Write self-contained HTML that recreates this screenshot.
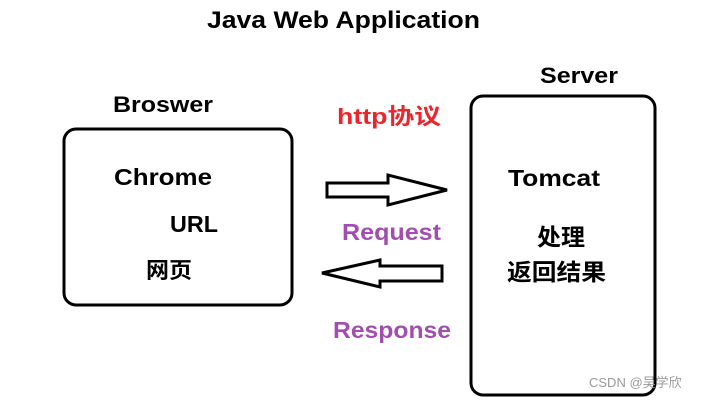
<!DOCTYPE html>
<html><head><meta charset="utf-8"><style>
body{margin:0;width:703px;height:402px;background:#fff;overflow:hidden}
text{font-family:"Liberation Sans","Noto Sans CJK SC",sans-serif;font-weight:bold}
</style></head><body>
<svg width="703" height="402" xmlns="http://www.w3.org/2000/svg">
<text x="207" y="28" font-size="24" textLength="273" lengthAdjust="spacingAndGlyphs">Java  Web Application</text>
<text x="540" y="83" font-size="22" textLength="78" lengthAdjust="spacingAndGlyphs">Server</text>
<text x="113" y="112" font-size="22" textLength="100" lengthAdjust="spacingAndGlyphs">Broswer</text>
<text x="337" y="124" font-size="22" fill="#e8262b" textLength="104" lengthAdjust="spacingAndGlyphs">http协议</text>
<rect x="64" y="129" width="228" height="176" rx="12" fill="none" stroke="#000" stroke-width="3"/>
<rect x="471" y="96" width="184" height="299" rx="12" fill="none" stroke="#000" stroke-width="3"/>
<text x="114" y="185" font-size="23" textLength="98" lengthAdjust="spacingAndGlyphs">Chrome</text>
<text x="170" y="232" font-size="23" textLength="48" lengthAdjust="spacingAndGlyphs">URL</text>
<text x="146" y="278" font-size="22" textLength="46" lengthAdjust="spacingAndGlyphs">网页</text>
<text x="508" y="186" font-size="23" textLength="92" lengthAdjust="spacingAndGlyphs">Tomcat</text>
<text x="537" y="245" font-size="23" textLength="48" lengthAdjust="spacingAndGlyphs">处理</text>
<text x="507" y="280" font-size="23" textLength="99" lengthAdjust="spacingAndGlyphs">返回结果</text>
<text x="342" y="240" font-size="23" fill="#a24db0" textLength="99" lengthAdjust="spacingAndGlyphs">Request</text>
<text x="333" y="338" font-size="23" fill="#a24db0" textLength="118" lengthAdjust="spacingAndGlyphs">Response</text>
<polygon points="327,183 388,183 388,175 447,190 388,205 388,197 327,197" fill="#fff" stroke="#000" stroke-width="3"/>
<polygon points="442,266 380,266 380,260 322,273 380,287 380,281 442,281" fill="#fff" stroke="#000" stroke-width="3"/>
<text x="589" y="387" font-size="13" fill="#999" style="font-weight:normal">CSDN @吴学欣</text>
</svg>
</body></html>
